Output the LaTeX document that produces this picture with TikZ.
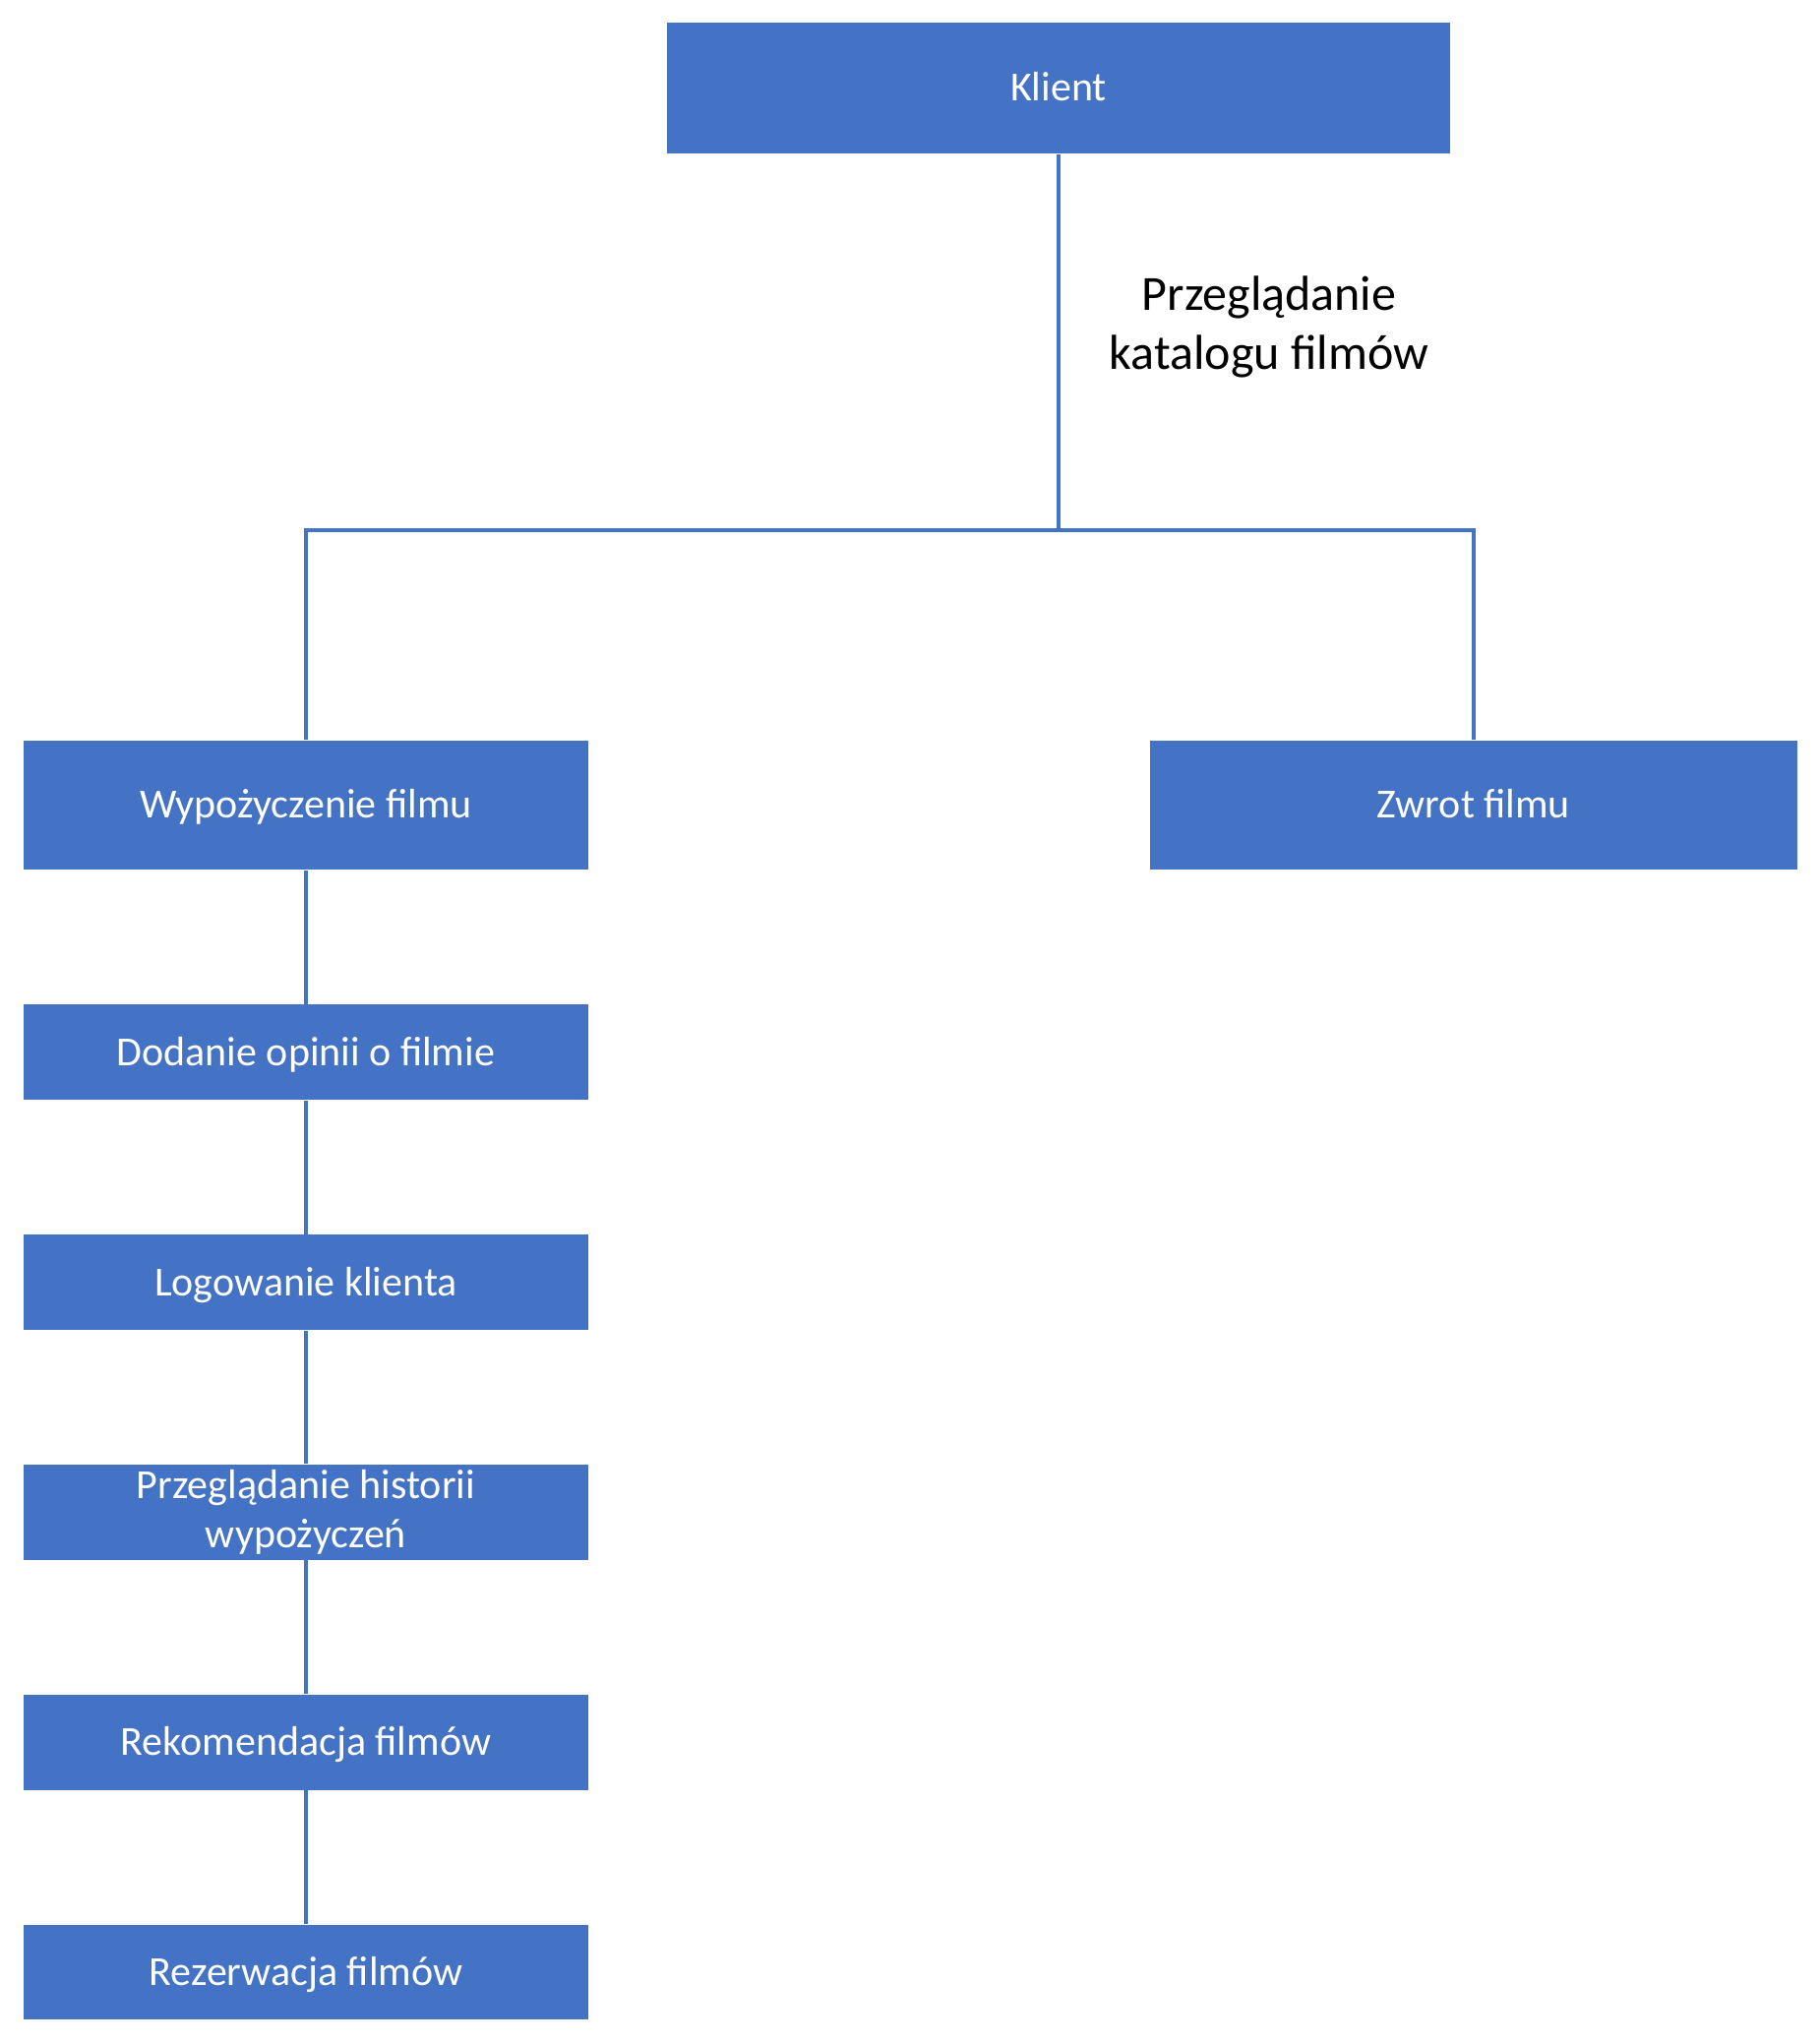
\documentclass[tikz,border=0pt]{standalone}
\usepackage{fontspec}
\setmainfont{Carlito}
\usetikzlibrary{positioning}
\definecolor{boxblue}{HTML}{4472C4}

\begin{document}
\begin{tikzpicture}[x=0.5pt,y=0.5pt,
    box/.style={draw=white,line width=0.6pt,fill=boxblue,text=white,
      inner sep=0pt,outer sep=0pt,align=center,font=\fontsize{21}{25}\selectfont,
      minimum height=49pt,minimum width=288pt},
    single/.style={box,text height=13.5pt,text depth=0pt},
    link/.style={draw=boxblue,line width=2pt},
    node distance=67.9pt]
  \useasboundingbox (0,0) rectangle (1850,2077);

  % top level
  \node [single,minimum width=399pt,minimum height=67.5pt] (klient) at (1076,1987.5) {Klient};
  \node [font=\fontsize{25}{30}\selectfont,align=center] (katalog) at (1290,1745)
    {Przeglądanie\\katalogu filmów};

  % second level
  \node [single,minimum height=66.5pt] (wypozyczenie) at (311,1258.5) {Wypożyczenie filmu};
  \node [single,minimum width=329.5pt,minimum height=66.5pt] (zwrot) at (1498,1258.5) {Zwrot filmu};

  % chain under Wypozyczenie
  \node [single,below=of wypozyczenie] (opinia) {Dodanie opinii o filmie};
  \node [single,below=of opinia] (logowanie) {Logowanie klienta};
  \node [box,below=of logowanie] (historia) {Przeglądanie historii\\wypożyczeń};
  \node [single,below=of historia] (rekomendacja) {Rekomendacja filmów};
  \node [single,below=of rekomendacja] (rezerwacja) {Rezerwacja filmów};

  \coordinate (bar) at (0,1538);
  \draw [link] (klient.south) -- (klient.south |- bar) -| (wypozyczenie.north);
  \draw [link] (klient.south |- bar) -| (zwrot.north);

  \draw [link] (wypozyczenie) -- (opinia);
  \draw [link] (opinia) -- (logowanie);
  \draw [link] (logowanie) -- (historia);
  \draw [link] (historia) -- (rekomendacja);
  \draw [link] (rekomendacja) -- (rezerwacja);

\end{tikzpicture}
\end{document}
